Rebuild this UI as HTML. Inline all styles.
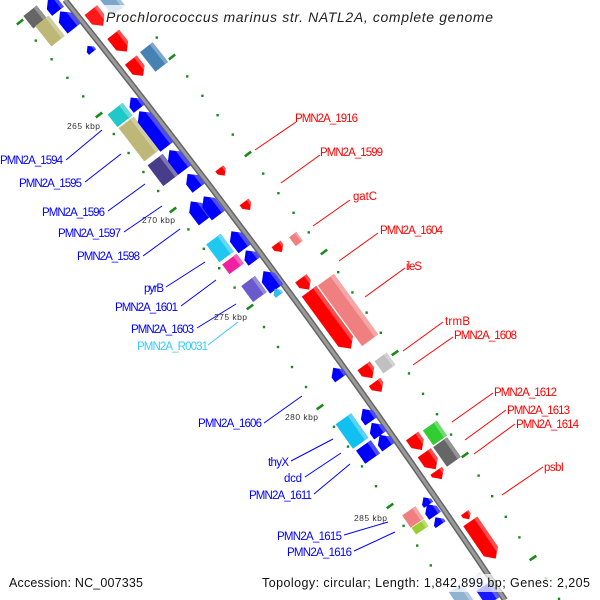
<!DOCTYPE html>
<html><head><meta charset="utf-8"><style>
html,body{margin:0;padding:0;background:#fff;}
svg{display:block;font-family:"Liberation Sans",sans-serif;}
</style></head><body>
<svg id="s" width="600" height="600" viewBox="0 0 600 600" xmlns="http://www.w3.org/2000/svg">
<g id="dots"></g>
<path d="M65 0 Q305 300 505 600" fill="none" stroke="#666" stroke-width="6"/>
<path d="M65 0 Q305 300 505 600" fill="none" stroke="#9a9a9a" stroke-width="3"/>
<g id="genes"></g>
<g stroke-width="1" fill="none">
<g stroke="#0000ff">
<line x1="66" y1="160" x2="102" y2="130"/><line x1="85" y1="182" x2="121" y2="154"/>
<line x1="108" y1="211" x2="145" y2="184"/><line x1="124" y1="232" x2="162" y2="206"/>
<line x1="143" y1="256" x2="180" y2="229"/><line x1="166" y1="287" x2="205" y2="262"/>
<line x1="181" y1="306" x2="216" y2="280"/><line x1="197" y1="328" x2="236" y2="304"/>
<line x1="264" y1="423" x2="302" y2="396"/><line x1="291" y1="461" x2="333" y2="439"/>
<line x1="305" y1="477" x2="341" y2="453"/><line x1="314" y1="494" x2="350" y2="464"/>
<line x1="344" y1="535" x2="388" y2="522"/><line x1="354" y1="551" x2="395" y2="532"/>
</g>
<line x1="208" y1="345" x2="238" y2="322" stroke="#33ccff"/>
<g stroke="#ff0000">
<line x1="255" y1="150" x2="296" y2="122"/><line x1="281" y1="183" x2="320" y2="155"/>
<line x1="313" y1="226" x2="350" y2="200"/><line x1="339" y1="261" x2="378" y2="233"/>
<line x1="365" y1="297" x2="405" y2="268"/><line x1="403" y1="351" x2="443" y2="322"/>
<line x1="413" y1="365" x2="453" y2="337"/><line x1="452" y1="422" x2="493" y2="393"/>
<line x1="465" y1="440" x2="506" y2="410"/><line x1="474" y1="454" x2="515" y2="424"/>
<line x1="502" y1="495" x2="543" y2="467"/>
</g></g>
<g font-size="11.5" fill="#0000ff">
<text x="0" y="164" textLength="63">PMN2A_1594</text>
<text x="19" y="187" textLength="63">PMN2A_1595</text>
<text x="42" y="216" textLength="63">PMN2A_1596</text>
<text x="58" y="237" textLength="63">PMN2A_1597</text>
<text x="77" y="260" textLength="63">PMN2A_1598</text>
<text x="144" y="292" textLength="20">pyrB</text>
<text x="115" y="311" textLength="63">PMN2A_1601</text>
<text x="131" y="333" textLength="63">PMN2A_1603</text>
<text x="137" y="350" textLength="71" fill="#33ccff">PMN2A_R0031</text>
<text x="198" y="427" textLength="64">PMN2A_1606</text>
<text x="268" y="466" textLength="21">thyX</text>
<text x="284" y="482" textLength="18">dcd</text>
<text x="249" y="499" textLength="63">PMN2A_1611</text>
<text x="277" y="540" textLength="65">PMN2A_1615</text>
<text x="287" y="556" textLength="65">PMN2A_1616</text>
</g>
<g font-size="11.5" fill="#ff0000">
<text x="295" y="122" textLength="63">PMN2A_1916</text>
<text x="320" y="156" textLength="63">PMN2A_1599</text>
<text x="353" y="200" textLength="24">gatC</text>
<text x="380" y="234" textLength="63">PMN2A_1604</text>
<text x="406" y="270" textLength="16">ileS</text>
<text x="445" y="325" textLength="25">trmB</text>
<text x="454" y="339" textLength="63">PMN2A_1608</text>
<text x="494" y="396" textLength="63">PMN2A_1612</text>
<text x="507" y="414" textLength="63">PMN2A_1613</text>
<text x="516" y="428" textLength="63">PMN2A_1614</text>
<text x="544" y="471" textLength="20">psbI</text>
</g>
<g font-size="8.5" fill="#333">
<text x="67" y="129" textLength="33">265 kbp</text>
<text x="142" y="223" textLength="33">270 kbp</text>
<text x="214" y="320" textLength="33">275 kbp</text>
<text x="285" y="420" textLength="33">280 kbp</text>
<text x="354" y="521" textLength="33">285 kbp</text>
</g>
<rect x="104" y="5" width="392" height="22" fill="#fff" opacity="0.75"/>
<text x="106" y="22" font-size="14" font-style="italic" fill="#222" textLength="387">Prochlorococcus marinus str. NATL2A, complete genome</text>
<rect x="258" y="574" width="336" height="18" fill="#fff" opacity="0.7"/>
<g font-size="12.5" fill="#111">
<text x="9" y="587" textLength="134">Accession: NC_007335</text>
<text x="262" y="587" textLength="328">Topology: circular; Length: 1,842,899 bp; Genes: 2,205</text>
</g>
</svg>
<script>
(function(){
var NS="http://www.w3.org/2000/svg";
function ang(y){var s=0.8-0.13*(y/600);return Math.atan2(1,s)*180/Math.PI;}
function el(n,a,p){var e=document.createElementNS(NS,n);for(var k in a)e.setAttribute(k,a[k]);p.appendChild(e);return e;}
var G=document.getElementById("genes");
function lighten(c,f){var r=parseInt(c.substr(1,2),16),g=parseInt(c.substr(3,2),16),b=parseInt(c.substr(5,2),16);
r=Math.round(r+(255-r)*f);g=Math.round(g+(255-g)*f);b=Math.round(b+(255-b)*f);return "rgb("+r+","+g+","+b+")";}
function gene(cx,cy,L,W,col,dir,op){
 var g=el("g",{transform:"translate("+cx+","+cy+") rotate("+ang(cy).toFixed(1)+")",opacity:op||1},G);
 var a=-L/2,b=L/2,w=W/2,pts,h=Math.min(W*0.5,L);
 if(dir==1)pts=[[a,-w],[b-h,-w],[b,0],[b-h,w],[a,w]];
 else if(dir==-1)pts=[[b,-w],[a+h,-w],[a,0],[a+h,w],[b,w]];
 else pts=[[a,-w],[b,-w],[b,w],[a,w]];
 el("polygon",{points:pts.map(function(p){return p.join(",")}).join(" "),fill:col},g);
 var q=w*0.45,band;
 if(dir==1)band=[[a,-w],[b-h,-w],[b-h*(1-0.45),-w+q],[a,-w+q]];
 else if(dir==-1)band=[[b,-w],[a+h,-w],[a+h*(1-0.45),-w+q],[b,-w+q]];
 else band=[[a,-w],[b,-w],[b,-w+q],[a,-w+q]];
 el("polygon",{points:band.map(function(p){return p.join(",")}).join(" "),fill:lighten(col,0.3)},g);
}
var B="#0000ff",R="#ff0000";
var genes=[
[35,17,16,17,"#666666",0],[50,31,26,17,"#bdb878",0],[53,5,16,15,B,-1],[67,20,22,16,B,-1],
[90,49,8,9,B,-1],[97,18,20,16,R,1,0.9],[112,2,22,16,"#4682b4",0,0.7],
[120,43,22,15,R,1],[137,68,20,15,R,1],[154,57,25,16,"#4682b4",0],
[120,115,16,19,"#20c8c8",0],[139,139,42,19,"#bdb878",0],[163,170,26,19,"#483d8b",0],
[135,103,14,14,B,-1],[153,129,45,16,B,-1],[177,160,25,16,B,-1],[193,181,18,15,B,-1],
[198,211,24,16,B,-1],[211,206,24,16,B,-1],[238,240,22,15,B,-1],[250,256,14,14,B,-1],
[220,248,22,18,"#1ec8f0",0],[233,264,12,18,"#f020a0",0],
[254,289,20,17,"#6a5acd",0],[270,280,22,16,B,-1],[277,292,8,9,"#33bbee",-1],
[222,172,9,10,R,1],[247,206,10,11,R,1],[279,248,10,11,R,1],[296,239,11,9,"#f08080",0],
[305,284,14,14,R,1],[330,320,71,18,R,1],[348,310,75,20,"#f08080",0],
[385,363,15,15,"#c0c0c0",0],[368,372,15,15,R,1],[378,387,12,14,R,1],[337,373,13,14,B,-1],
[352,431,30,19,"#10c0f0",0],[368,452,16,18,B,0],
[367,415,15,15,B,-1],[376,429,15,15,B,-1],[384,441,15,15,B,-1],
[417,443,17,15,R,1],[430,461,20,16,R,1],[439,475,10,14,R,1],
[435,433,18,17,"#32cd32",0],[447,452,24,17,"#666666",0],
[426,501,9,11,B,-1],[431,510,14,14,B,-1],[438,521,9,12,B,-1],
[413,517,15,16,"#f08080",0],[420,527,8,15,"#9acd32",0],
[467,516,8,9,R,1],[483,540,45,17,R,1],
[461,596,20,16,"#4682b4",0,0.6],[488,594,18,16,B,0,0.9],[478,582,14,14,"#8888ff",0,0.35]
];
genes.forEach(function(g){gene(g[0],g[1],g[2],g[3],g[4],g[5],g[6]);});
var D=document.getElementById("dots");
function dline(pts){
 for(var i=0;i<pts.length-1;i++){var p=pts[i],q=pts[i+1];
  for(var k=0;k<5;k++){var t=k/5,y=p[1]+t*(q[1]-p[1]),x=p[0]+t*(q[0]-p[0]);
   if(y<-5||y>610)continue;
   var a=ang(y);
   if(k==0)el("rect",{x:x-4,y:y-1.3,width:8,height:2.6,fill:"#1a8a1a",transform:"rotate("+(a-90).toFixed(1)+" "+x+" "+y+")"},D);
   else el("rect",{x:x-1.2,y:y-1.2,width:2.4,height:2.4,fill:"#1a8a1a"},D);
  }}
}
dline([[20,22],[99,115],[173,210],[250,307],[320,407],[390,506],[458,605]]);
dline([[96,-40],[172,57],[248,154],[324,252],[395,353],[465,455],[533,558],[598,660]]);
})();
</script>
</body></html>
